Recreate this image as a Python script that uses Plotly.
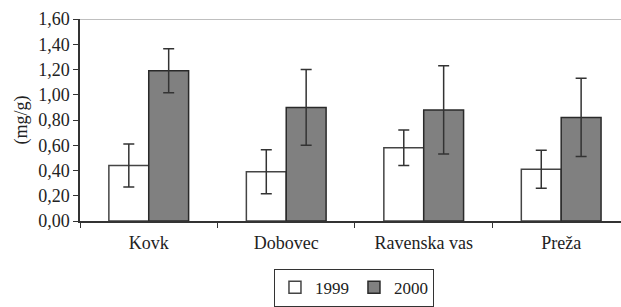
import plotly.graph_objects as go

categories = ["Kovk", "Dobovec", "Ravenska vas", "Preža"]
series_names = ["1999", "2000"]
values_1999 = [0.44, 0.39, 0.58, 0.41]
errors_1999 = [0.17, 0.175, 0.14, 0.15]
values_2000 = [1.19, 0.90, 0.88, 0.82]
errors_2000 = [0.175, 0.30, 0.35, 0.31]
y_ticks = [0.0, 0.2, 0.4, 0.6, 0.8, 1.0, 1.2, 1.4, 1.6]

font_family = "Liberation Serif, Times New Roman, serif"

fig = go.Figure()
fig.add_trace(go.Bar(
    x=categories, y=values_1999, name=series_names[0],
    marker=dict(color="white", line=dict(color="#444444", width=1.5)),
    error_y=dict(type="data", array=errors_1999, color="#333333", thickness=1.5, width=5.5),
))
fig.add_trace(go.Bar(
    x=categories, y=values_2000, name=series_names[1],
    marker=dict(color="#808080", line=dict(color="#2a2a2a", width=1.5)),
    error_y=dict(type="data", array=errors_2000, color="#333333", thickness=1.5, width=5.5),
))

fig.update_layout(
    width=621, height=307,
    margin=dict(l=80, r=0, t=19, b=86, autoexpand=False),
    paper_bgcolor="white", plot_bgcolor="white",
    separators=",.",
    barmode="group", bargap=0.42, bargroupgap=0,
    font=dict(family=font_family, size=18, color="#222222"),
    showlegend=True,
    legend=dict(orientation="h", x=0.57, xref="container", xanchor="center",
                y=0.125, yref="container", yanchor="top",
                bordercolor="#333333", borderwidth=1, itemwidth=30,
                font=dict(size=17, family=font_family), traceorder="normal",
                tracegroupgap=0),
    xaxis=dict(range=[-0.5, 3.435], showline=True, linecolor="#333333", linewidth=1.5,
               ticks="outside", tickson="boundaries", ticklen=5, tickcolor="#333333",
               showgrid=False, tickfont=dict(size=18), automargin=False,
               ticklabelstandoff=5),
    yaxis=dict(range=[0, 1.6], tickvals=y_ticks, tickformat=".2f",
               showline=True, linecolor="#333333", linewidth=1.5,
               ticks="outside", ticklen=5, tickcolor="#333333",
               showgrid=False, zeroline=False, automargin=False,
               title=dict(text="(mg/g)", font=dict(size=18), standoff=6),
               tickfont=dict(size=18)),
)
fig.add_shape(type="line", xref="paper", yref="y", x0=0, x1=1, y0=1.6, y1=1.6,
              line=dict(color="#aaaaaa", width=1.5))

fig.write_html("out.html", config={"displayModeBar": False},
               post_script="document.body.style.margin='0';")
